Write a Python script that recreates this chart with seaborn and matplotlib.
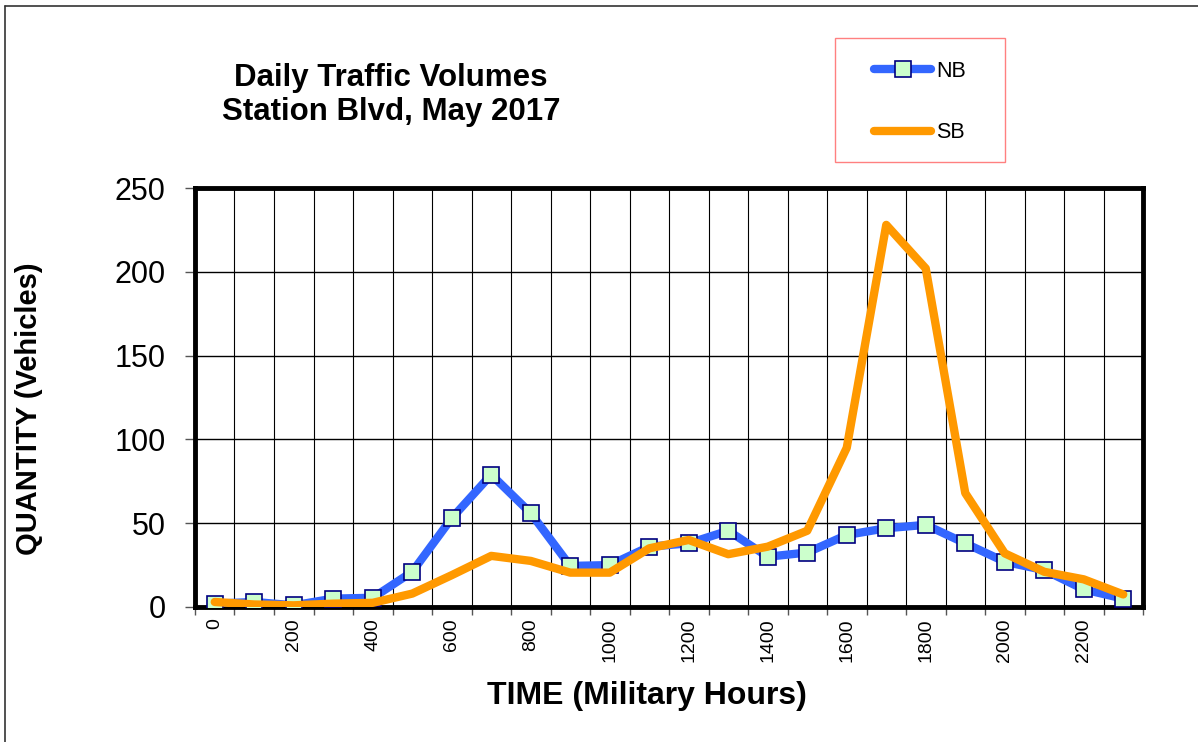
import numpy as np
import pandas as pd
import matplotlib.pyplot as plt
import seaborn as sns
from matplotlib.lines import Line2D
from matplotlib.patches import Rectangle

# Dados
horas = ['0', '100', '200', '300', '400', '500', '600', '700', '800', '900', '1000', '1100',
         '1200', '1300', '1400', '1500', '1600', '1700', '1800', '1900', '2000', '2100', '2200', '2300']
nb = [2, 3, 1, 5, 5.5, 21, 53, 79, 56, 24.5, 25, 36,
      38, 45.5, 30, 32.5, 43, 47, 49, 38, 27, 22, 10.5, 5]
sb = [3, 1.5, 1, 2, 2.5, 8, 19, 30.5, 27.5, 20.5, 20.5, 35,
      40, 31.5, 36, 45.5, 95, 228, 202, 68, 32, 21, 16.5, 7.5]

df = pd.DataFrame({'pos': np.arange(len(horas)), 'NB': nb, 'SB': sb})

sns.set_style("white")
plt.rcParams['font.family'] = ['Liberation Sans', 'DejaVu Sans']
plt.rcParams.update({'text.color': 'black', 'axes.labelcolor': 'black',
                     'xtick.labelcolor': 'black', 'ytick.labelcolor': 'black'})

W, H = 1198, 742
fig = plt.figure(figsize=(W / 100, H / 100), dpi=100)
ax = fig.add_axes([195 / W, 1 - 607 / H, (1143 - 195) / W, (607 - 188) / H])

sns.lineplot(data=df, x='pos', y='NB', ax=ax, color='#3366FF', linewidth=6,
             marker='s', markersize=12, markerfacecolor='#CCFFCC',
             markeredgecolor='#000080', markeredgewidth=1.2, zorder=3)
sns.lineplot(data=df, x='pos', y='SB', ax=ax, color='#FF9900', linewidth=6,
             solid_capstyle='round', zorder=4)

ax.set_xlim(-0.5, len(horas) - 0.5)
ax.set_ylim(0, 250)
ax.set_yticks(range(0, 251, 50))
ax.set_xticks(np.arange(0, len(horas), 2))
ax.set_xticklabels(horas[::2], rotation=90, fontsize=14)
ax.set_xticks(np.arange(-0.5, len(horas), 1), minor=True)
ax.tick_params(axis='x', which='major', length=0, pad=8)
ax.tick_params(axis='x', which='minor', length=6, width=1, color='#555555', direction='out', bottom=True)
ax.tick_params(axis='y', which='major', length=7, width=1, color='#555555', direction='out',
               left=True, labelsize=22, pad=14)
ax.grid(True, axis='y', which='major', color='black', linewidth=1)
ax.grid(True, axis='x', which='minor', color='black', linewidth=0.8)
ax.grid(False, axis='x', which='major')
ax.set_axisbelow(True)
for s in ax.spines.values():
    s.set_visible(True)
    s.set_color('black')
    s.set_linewidth(3.5)

ax.set_xlabel('TIME (Military Hours)', fontsize=23, fontweight='bold')
ax.set_ylabel('QUANTITY (Vehicles)', fontsize=21, fontweight='bold')
ax.xaxis.set_label_coords((647 - 195) / 948, -(681 - 607) / 419)
ax.yaxis.set_label_coords(-(195 - 43) / 948, (607 - 409) / 419)

fig.text(391 / W, 1 - 95 / H, 'Daily Traffic Volumes\nStation Blvd, May 2017',
         ha='center', va='center', fontsize=22.5, fontweight='bold', linespacing=1.2)

# legenda com moldura própria
fig.add_artist(Rectangle((835 / W, 1 - 162 / H), 170 / W, 124 / H, transform=fig.transFigure,
                         facecolor='white', edgecolor='#FF8080', linewidth=1, zorder=5))
handles = [Line2D([], [], color='#3366FF', linewidth=6, marker='s', markersize=12,
                  markerfacecolor='#CCFFCC', markeredgecolor='#000080', markeredgewidth=1.2),
           Line2D([], [], color='#FF9900', linewidth=6, solid_capstyle='round')]
leg = fig.legend(handles, ['NB', 'SB'], loc='center',
                 bbox_to_anchor=(920 / W, 1 - 102 / H), frameon=False,
                 fontsize=15.5, handlelength=2.65, handletextpad=0.2, labelspacing=1.9,
                 borderpad=0, borderaxespad=0)
leg.set_zorder(6)

# borda da figura (topo e esquerda)
fig.add_artist(Line2D([5 / W, 1], [1 - 6 / H, 1 - 6 / H], transform=fig.transFigure,
                      color='#333333', linewidth=1.2))
fig.add_artist(Line2D([5 / W, 5 / W], [0, 1 - 6 / H], transform=fig.transFigure,
                      color='#333333', linewidth=1.2))

fig.savefig('out.png', dpi=100)
